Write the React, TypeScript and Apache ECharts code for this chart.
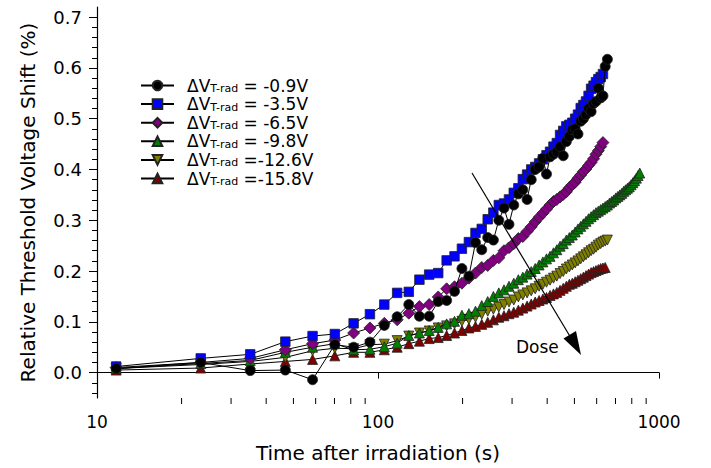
import React, { useEffect, useRef } from "react";
import * as echarts from "echarts";

// Time after irradiation (s) of each sample
const times = [
  11.7, 23.4, 35.1, 46.8, 58.5, 70.2, 81.9, 93.6, 105.3, 117, 128.7, 140.4, 152.1, 163.8, 175.5, 187.2,
  198.9, 210.6, 222.3, 234, 245.7, 257.4, 269.1, 280.8, 292.5, 304.2, 315.9, 327.6, 339.3, 351, 362.7,
  374.4, 386.1, 397.8, 409.5, 421.2, 432.9, 444.6, 456.3, 468, 479.7, 491.4, 503.1, 514.8, 526.5, 538.2,
  549.9, 561.6, 573.3, 585, 596.7, 608.4, 620.1, 631.8, 643.5, 655.2, 666.9, 678.6, 690.3, 702, 713.7,
  725.4, 737.1, 748.8, 760.5, 772.2, 783.9, 795.6, 807.3, 819, 830.7, 842.4, 854.1,
];

const legendLabels = ["= -0.9V", "= -3.5V", "= -6.5V", "= -9.8V", "=-12.6V", "=-15.8V"];
const fillColors = ["#000000", "#0000ff", "#800080", "#008000", "#808000", "#800000"];
const symbols = ["circle", "rect", "diamond", "triangle", "triangle", "triangle"];
const symbolRotations = [0, 0, 0, 0, 180, 0];
const symbolSizes = [10, 9.5, 12, 10, 10, 10];

const v09 = [
  0.008, 0.02, 0.004, 0.005, -0.014, 0.055, 0.05, 0.06, 0.093, 0.11, 0.134, 0.111, 0.111, 0.14, 0.142,
  0.16, 0.205, 0.19, 0.256, 0.242, 0.266, 0.261, 0.3, 0.324, 0.292, 0.33, 0.352, 0.36, 0.341, 0.38, 0.4,
  0.405, 0.422, 0.391, 0.425, 0.43, 0.435, 0.445, 0.427, 0.455, 0.465, 0.478, 0.48, 0.47, 0.495, 0.5,
  0.508, 0.52, 0.514, 0.53, 0.534, 0.56, 0.541, 0.545, 0.603, 0.617,
];
const v35 = [
  0.012, 0.028, 0.036, 0.061, 0.072, 0.076, 0.097, 0.115, 0.134, 0.157, 0.159, 0.183, 0.193, 0.196,
  0.221, 0.229, 0.244, 0.257, 0.275, 0.283, 0.302, 0.315, 0.33, 0.333, 0.341, 0.354, 0.363, 0.381, 0.39,
  0.4, 0.405, 0.412, 0.42, 0.428, 0.435, 0.445, 0.452, 0.468, 0.476, 0.485, 0.488, 0.492, 0.5, 0.508,
  0.521, 0.527, 0.534, 0.545, 0.559, 0.565, 0.572, 0.578, 0.582, 0.588,
];
const v65 = [
  0.01, 0.02, 0.028, 0.045, 0.057, 0.064, 0.078, 0.088, 0.097, 0.104, 0.117, 0.13, 0.134, 0.149, 0.165,
  0.169, 0.176, 0.186, 0.196, 0.207, 0.211, 0.221, 0.226, 0.24, 0.246, 0.254, 0.264, 0.268, 0.278, 0.287,
  0.297, 0.306, 0.314, 0.322, 0.33, 0.337, 0.341, 0.346, 0.351, 0.356, 0.364, 0.37, 0.375, 0.383, 0.389,
  0.396, 0.401, 0.408, 0.414, 0.421, 0.43, 0.437, 0.445, 0.453,
];
const v98 = [
  0.008, 0.018, 0.024, 0.04, 0.05, 0.057, 0.045, 0.046, 0.051, 0.058, 0.073, 0.078, 0.083, 0.089, 0.096,
  0.101, 0.113, 0.116, 0.121, 0.132, 0.14, 0.15, 0.157, 0.163, 0.17, 0.176, 0.183, 0.188, 0.194, 0.199,
  0.205, 0.212, 0.218, 0.224, 0.229, 0.236, 0.242, 0.249, 0.254, 0.261, 0.266, 0.271, 0.277, 0.283,
  0.288, 0.293, 0.298, 0.303, 0.307, 0.311, 0.315, 0.318, 0.321, 0.324, 0.327, 0.33, 0.334, 0.337, 0.34,
  0.344, 0.347, 0.35, 0.353, 0.357, 0.36, 0.363, 0.366, 0.37, 0.374, 0.378, 0.383, 0.388, 0.393,
];
const v126 = [
  0.008, 0.016, 0.022, 0.03, 0.043, 0.048, 0.047, 0.055, 0.056, 0.063, 0.072, 0.078, 0.082, 0.088,
  0.092, 0.096, 0.101, 0.105, 0.109, 0.115, 0.121, 0.125, 0.129, 0.134, 0.139, 0.143, 0.149, 0.153,
  0.157, 0.161, 0.165, 0.17, 0.174, 0.178, 0.182, 0.186, 0.19, 0.195, 0.199, 0.204, 0.208, 0.212, 0.216,
  0.22, 0.224, 0.228, 0.232, 0.236, 0.24, 0.243, 0.247, 0.251, 0.254, 0.257, 0.259, 0.261,
];
const v158 = [
  0.005, 0.009, 0.017, 0.022, 0.026, 0.033, 0.04, 0.04, 0.045, 0.05, 0.057, 0.062, 0.067, 0.069, 0.073,
  0.078, 0.083, 0.088, 0.091, 0.095, 0.099, 0.104, 0.109, 0.112, 0.116, 0.119, 0.123, 0.127, 0.131,
  0.135, 0.139, 0.142, 0.145, 0.148, 0.152, 0.155, 0.158, 0.162, 0.166, 0.17, 0.174, 0.176, 0.179,
  0.182, 0.185, 0.188, 0.191, 0.194, 0.197, 0.199, 0.201, 0.203, 0.205, 0.206, 0.207,
];
const seriesValues = [v09, v35, v65, v98, v126, v158];

const yMajorTicks = [0, 0.1, 0.2, 0.3, 0.4, 0.5, 0.6, 0.7];
const yMinorTicks = [
  -0.04, -0.02, 0.02, 0.04, 0.06, 0.08, 0.12, 0.14, 0.16, 0.18, 0.22, 0.24, 0.26, 0.28, 0.32, 0.34,
  0.36, 0.38, 0.42, 0.44, 0.46, 0.48, 0.52, 0.54, 0.56, 0.58, 0.62, 0.64, 0.66, 0.68,
];
const xMinorTicks = [20, 30, 40, 50, 60, 70, 80, 90, 200, 300, 400, 500, 600, 700, 800, 900];

const Y_MIN = -0.05;
const Y_MAX = 0.72;
const FONT = "DejaVu Sans";

export default function App() {
  const ref = useRef<HTMLDivElement>(null);
  useEffect(() => {
    if (!ref.current) return;
    const chart = echarts.init(ref.current, null, { renderer: "svg" });
    const series: any[] = seriesValues.map((vals, i) => ({
      type: "line",
      name: legendLabels[i],
      data: vals.map((v, j) => [times[j], v]),
      symbol: symbols[i],
      symbolSize: symbolSizes[i],
      symbolRotate: symbolRotations[i],
      showAllSymbol: true,
      lineStyle: { color: "#000", width: 1 },
      itemStyle: { color: fillColors[i], borderColor: "#222", borderWidth: 0.8 },
      z: 2 + (5 - i),
    }));
    series.push({
      type: "custom",
      name: "xminor",
      clip: false,
      silent: true,
      data: xMinorTicks.map((t) => [t, Y_MIN]),
      renderItem: (params: any, api: any) => {
        const p = api.coord([api.value(0), api.value(1)]);
        return {
          type: "line",
          shape: { x1: p[0], y1: p[1], x2: p[0], y2: p[1] + 6 },
          style: { stroke: "#000", lineWidth: 1 },
        };
      },
    });
    chart.setOption({
      animation: false,
      backgroundColor: "#fff",
      grid: { left: 97, right: 52, top: 7, bottom: 70, containLabel: false },
      legend: {
        data: legendLabels,
        orient: "vertical",
        left: 140,
        top: 77,
        padding: 0,
        itemWidth: 33,
        itemHeight: 12,
        itemGap: 1.6,
        selectedMode: false,
        formatter: (name: string) => `{d|ΔV}{s|T-rad}{a| ${name}}`,
        textStyle: {
          fontFamily: FONT,
          fontSize: 17,
          color: "#000",
          rich: {
            d: { fontFamily: FONT, fontSize: 17, color: "#000", lineHeight: 17, verticalAlign: "middle", padding: [0, 0, 0, 8] },
            a: { fontFamily: FONT, fontSize: 17, color: "#000", lineHeight: 17, verticalAlign: "middle" },
            s: { fontFamily: FONT, fontSize: 11, color: "#000", lineHeight: 11, verticalAlign: "bottom" },
          },
        },
      },
      xAxis: {
        type: "log",
        logBase: 10,
        min: 10,
        max: 1000,
        name: "Time after irradiation (s)",
        nameLocation: "middle",
        nameGap: 45,
        nameTextStyle: { fontFamily: FONT, fontSize: 20, color: "#000" },
        axisLine: { lineStyle: { color: "#000", width: 1.2 } },
        axisTick: { show: true, inside: false, length: 6, lineStyle: { color: "#000", width: 1 } },
        axisLabel: {
          fontFamily: FONT,
          fontSize: 17,
          color: "#000",
          margin: 15,
          formatter: (v: number) => String(Math.round(v)),
        },
        splitLine: { show: false },
      },
      yAxis: [
        {
          type: "value",
          position: "left",
          min: Y_MIN,
          max: Y_MAX,
          name: "Relative Threshold Voltage Shift (%)",
          nameLocation: "middle",
          nameGap: 59,
          nameTextStyle: { fontFamily: FONT, fontSize: 20, color: "#000" },
          axisLine: { show: true, lineStyle: { color: "#000", width: 1.2 } },
          axisTick: { show: true, length: 8, customValues: yMajorTicks, lineStyle: { color: "#000", width: 1 } },
          axisLabel: {
            fontFamily: FONT,
            fontSize: 18,
            color: "#000",
            margin: 15,
            customValues: yMajorTicks,
            formatter: (v: number) => v.toFixed(1),
          },
          splitLine: { show: false },
        },
        {
          type: "value",
          position: "left",
          min: Y_MIN,
          max: Y_MAX,
          axisLine: { show: false },
          axisTick: { show: true, length: 5, customValues: yMinorTicks, lineStyle: { color: "#000", width: 1 } },
          axisLabel: { show: false },
          splitLine: { show: false },
        },
      ],
      graphic: [
        {
          type: "line",
          shape: { x1: 472, y1: 173, x2: 574, y2: 343 },
          style: { stroke: "#000", lineWidth: 1.2 },
          z: 100,
        },
        {
          type: "polygon",
          shape: { points: [[581, 355], [563.5, 338.5], [576, 331]] },
          style: { fill: "#000" },
          z: 100,
        },
        {
          type: "text",
          left: 516,
          top: 338,
          style: { text: "Dose", fontFamily: FONT, fontSize: 17, fill: "#000" },
          z: 100,
        },
      ],
      series,
    });
    return () => chart.dispose();
  }, []);
  return <div ref={ref} style={{ width: 711, height: 468, position: "absolute", left: 0, top: 0 }} />;
}
